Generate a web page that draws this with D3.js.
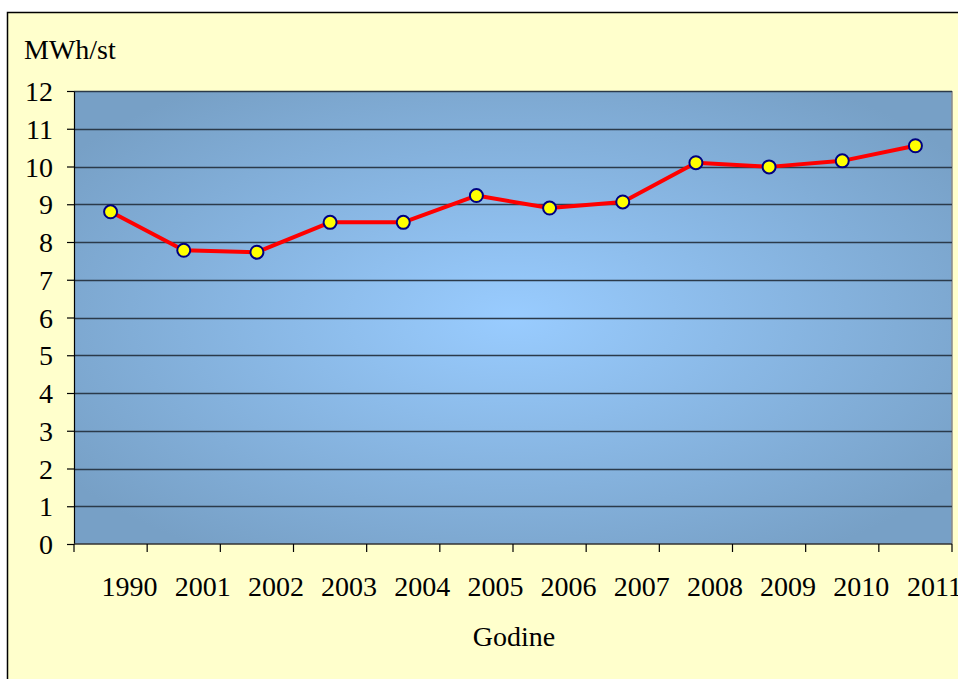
<!DOCTYPE html>
<html>
<head>
<meta charset="utf-8">
<script src="https://cdn.jsdelivr.net/npm/d3@7"></script>
<style>
  body { margin: 0; background: #fff; }
  svg text { font-family: "Liberation Serif", "Times New Roman", serif; font-size: 28px; fill: #000; }
</style>
</head>
<body>
<svg width="958" height="679"></svg>
<script>
const years = ["1990", "2001", "2002", "2003", "2004", "2005", "2006", "2007", "2008", "2009", "2010", "2011"];
const values = [8.8, 7.78, 7.73, 8.52, 8.52, 9.23, 8.9, 9.06, 10.1, 9.99, 10.15, 10.55];
const yTicks = [0, 1, 2, 3, 4, 5, 6, 7, 8, 9, 10, 11, 12];

const svg = d3.select("svg"),
  width = +svg.attr("width"),
  height = +svg.attr("height");

const plot = { left: 74, top: 91, right: 952, bottom: 544 };

// chart area background + frame
svg.append("rect")
  .attr("x", 7.5).attr("y", 12.5)
  .attr("width", width).attr("height", height)
  .attr("fill", "#ffffcc")
  .attr("stroke", "#000")
  .attr("stroke-width", 1.5);

const defs = svg.append("defs");
const grad = defs.append("radialGradient")
  .attr("id", "plotBg")
  .attr("cx", "50%").attr("cy", "50%").attr("r", "62%");
grad.append("stop").attr("offset", "0%").attr("stop-color", "#99ccff");
grad.append("stop").attr("offset", "100%").attr("stop-color", "#77a0c6");

const x = d3.scaleBand()
  .domain(years)
  .range([plot.left, plot.right])
  .paddingInner(0)
  .paddingOuter(0);

const y = d3.scaleLinear()
  .domain([0, 12])
  .range([plot.bottom, plot.top]);

svg.append("rect")
  .attr("x", plot.left).attr("y", plot.top)
  .attr("width", plot.right - plot.left)
  .attr("height", plot.bottom - plot.top)
  .attr("fill", "url(#plotBg)");

svg.append("line")
  .attr("x1", plot.right).attr("x2", plot.right)
  .attr("y1", plot.top).attr("y2", plot.bottom)
  .attr("stroke", "#8a8a8a").attr("stroke-width", 1.5);

// gridlines
svg.append("g")
  .selectAll("line")
  .data(yTicks.filter(d => d > 0))
  .enter().append("line")
  .attr("x1", plot.left).attr("x2", plot.right)
  .attr("y1", d => Math.round(y(d)) + 0.5)
  .attr("y2", d => Math.round(y(d)) + 0.5)
  .attr("stroke", "#2b3a4a")
  .attr("stroke-width", 1.5);

// y axis
const yAxis = svg.append("g")
  .attr("transform", `translate(${plot.left},0)`)
  .call(d3.axisLeft(y).tickValues(yTicks).tickSize(7).tickPadding(14).tickSizeOuter(0));
yAxis.select(".domain").attr("stroke", "#000").attr("stroke-width", 1.2);
yAxis.selectAll(".tick line").attr("stroke", "#000").attr("stroke-width", 1.2);
yAxis.selectAll("text").attr("dy", "0.34em");

// x axis: ticks on band edges, labels shifted like the original
const xAxis = svg.append("g")
  .attr("transform", `translate(0,${plot.bottom})`);
xAxis.append("line")
  .attr("x1", plot.left).attr("x2", plot.right)
  .attr("stroke", "#333").attr("stroke-width", 1.5);
const edges = years.map(d => x(d)).concat([plot.right]);
xAxis.selectAll(".tk")
  .data(edges)
  .enter().append("line")
  .attr("class", "tk")
  .attr("x1", d => d).attr("x2", d => d)
  .attr("y1", 0).attr("y2", 8)
  .attr("stroke", "#000").attr("stroke-width", 1.2);
xAxis.selectAll("text")
  .data(years)
  .enter().append("text")
  .attr("x", d => x(d) + x.bandwidth() / 2 + 19)
  .attr("y", 52)
  .attr("text-anchor", "middle")
  .text(d => d);

// series
const line = d3.line()
  .x((d, i) => x(years[i]) + x.bandwidth() / 2)
  .y(d => y(d));

svg.append("path")
  .datum(values)
  .attr("d", line)
  .attr("fill", "none")
  .attr("stroke", "#ff0000")
  .attr("stroke-width", 4)
  .attr("stroke-linejoin", "round");

svg.append("g")
  .selectAll("circle")
  .data(values)
  .enter().append("circle")
  .attr("cx", (d, i) => x(years[i]) + x.bandwidth() / 2)
  .attr("cy", d => y(d))
  .attr("r", 6.5)
  .attr("fill", "#ffff00")
  .attr("stroke", "#000080")
  .attr("stroke-width", 2);

// titles
svg.append("text")
  .attr("x", 24).attr("y", 59)
  .text("MWh/st");

svg.append("text")
  .attr("x", 514).attr("y", 646)
  .attr("text-anchor", "middle")
  .text("Godine");
</script>
</body>
</html>
